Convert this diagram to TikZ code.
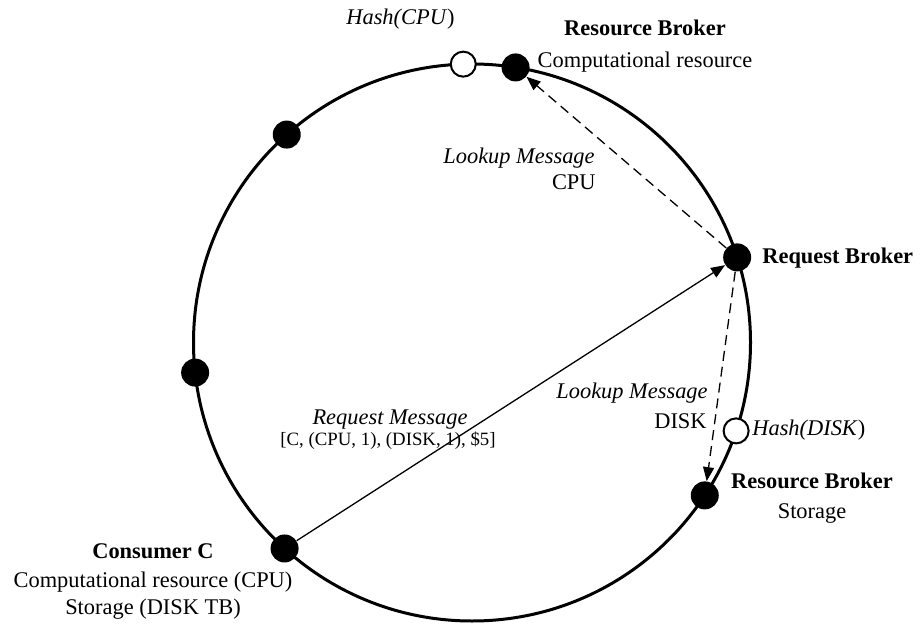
\documentclass[tikz,border=0pt]{standalone}
\usepackage{fontspec}
\setmainfont{Liberation Serif}
\usetikzlibrary{arrows.meta,calc}
\begin{document}
\begin{tikzpicture}[x=0.5pt,y=-0.5pt,
  ring/.style={line width=1.5pt},
  peer/.style={circle,fill=black,inner sep=0pt,minimum size=14pt},
  hashpt/.style={circle,draw=black,fill=white,line width=1pt,inner sep=0pt,minimum size=12.5pt},
  lbl/.style={inner sep=0pt,text height=0.68em,text depth=0pt,font=\fontsize{11.2pt}{14pt}\selectfont},
  smalllbl/.style={inner sep=0pt,text height=0.68em,text depth=0pt,font=\fontsize{9.4pt}{12pt}\selectfont},
  msg/.style={line width=0.65pt,-{Triangle[length=7pt,width=5.5pt]}},
  lookup/.style={msg,dash pattern=on 5pt off 3pt}]
\useasboundingbox (0,0) rectangle (920,625);

% the ring
\coordinate (c) at (472,342.5);
\draw[ring] (c) circle[radius=139.25pt];

% peers and hashed keys on the ring
\node[hashpt] (hcpu)  at ($(c)+(91.8:139.25pt)$) {};
\node[peer]   (rbcpu) at ($(c)+(81:139.25pt)$) {};
\node[peer]   (p1)    at ($(c)+(131.7:139.25pt)$) {};
\node[peer]   (p2)    at ($(c)+(186.2:139.25pt)$) {};
\node[peer]   (cons)  at ($(c)+(227.7:139.25pt)$) {};
\node[peer]   (rbdisk) at ($(c)+(-33.3:139.25pt)$) {};
\node[hashpt] (hdisk) at ($(c)+(-18.5:139.25pt)$) {};
\node[peer]   (req)   at ($(c)+(17.8:139.25pt)$) {};

% messages
\draw[msg] (cons) -- (req);
\draw[lookup] (req) -- (rbcpu);
\draw[lookup] (req) -- (rbdisk);

% labels
\node[lbl,anchor=east] (thcpu) at (455,18) {\textit{Hash(CPU})};
\node[lbl] (trbc1) at (645,29) {\textbf{Resource Broker}};
\node[lbl] (trbc2) at (645,61) {Computational resource};
\node[lbl,anchor=east] (tlk1) at (595,157) {\textit{Lookup Message}};
\node[lbl,anchor=east] (tlk1b) at (596,183) {CPU};
\node[lbl,anchor=west] (treq) at (762,257) {\textbf{Request Broker}};
\node[lbl,anchor=east] (tlk2) at (708,392) {\textit{Lookup Message}};
\node[lbl,anchor=east] (tlk2b) at (707,422) {DISK};
\node[lbl,anchor=west] (thdisk) at (752,429) {\textit{Hash(DISK})};
\node[lbl] (trbd1) at (812,482) {\textbf{Resource Broker}};
\node[lbl] (trbd2) at (812,512) {Storage};
\node[lbl] (trm1) at (390,418) {\textit{Request Message}};
\node[smalllbl] (trm2) at (388,439) {[C, (CPU, 1), (DISK, 1), \$5]};
\node[lbl] (tc1) at (153,552) {\textbf{Consumer C}};
\node[lbl] (tc2) at (153,581) {Computational resource (CPU)};
\node[lbl] (tc3) at (153,608) {Storage (DISK TB)};
\end{tikzpicture}
\end{document}
